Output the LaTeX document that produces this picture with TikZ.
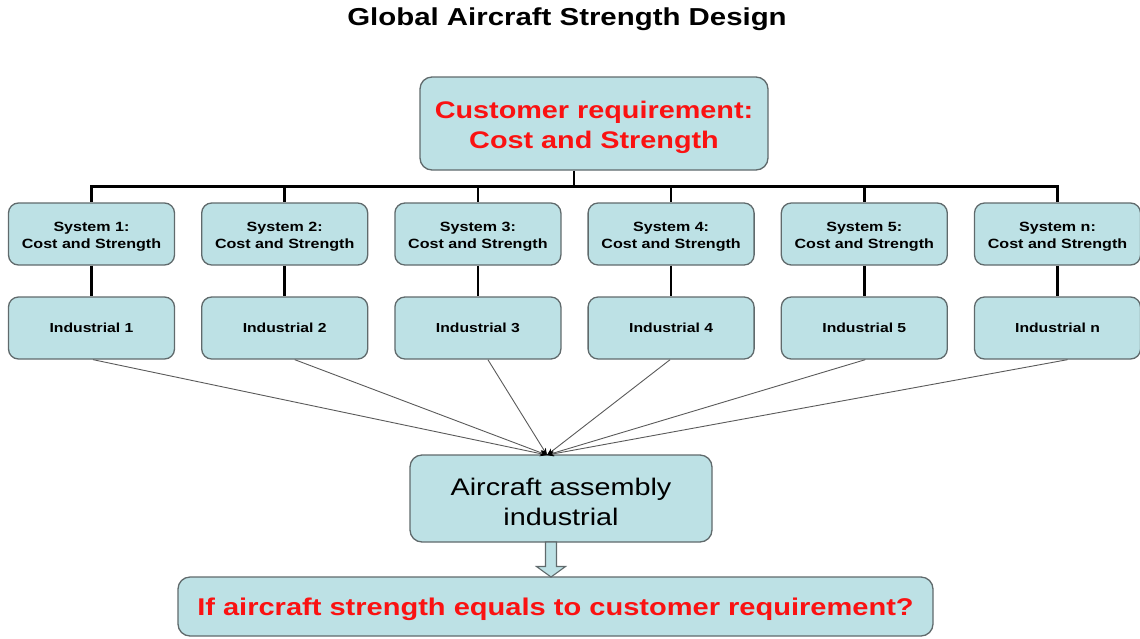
\documentclass[tikz,border=0pt]{standalone}
\usepackage{fontspec}
\setmainfont{Liberation Sans}[FakeStretch=1.2]
\usetikzlibrary{arrows.meta,calc}

\definecolor{boxfill}{RGB}{189,225,229}
\definecolor{boxedge}{RGB}{96,106,108}
\definecolor{reqred}{RGB}{250,18,18}
\definecolor{feedline}{RGB}{90,90,90}

% stacked, centred lines, set a little lower than the box centre
\newcommand{\lowtext}[2][3pt]{\raisebox{-#1}[\height][\depth]{\begin{tabular}{@{}c@{}}#2\end{tabular}}}

\tikzset{
  box/.style={draw=boxedge, line width=1.3pt, fill=boxfill, align=center, inner sep=0pt},
  bigbox/.style={box, rounded corners=12pt},
  sysbox/.style={box, rounded corners=10pt, minimum width=166pt, minimum height=62pt,
                 font=\fontsize{13.4}{17}\selectfont\bfseries},
  indbox/.style={sysbox, font=\fontsize{13.1}{16}\selectfont\bfseries},
  tree/.style={line width=2.7pt, black},
  feed/.style={line width=0.9pt, feedline, -{Stealth[length=7pt,width=5.5pt,black]}},
  hollow/.style={draw=boxedge, line width=1.1pt, fill=boxfill, line join=miter}
}

\begin{document}
\begin{tikzpicture}[x=1pt, y=-1pt]
  \useasboundingbox (0,0) rectangle (1140,638);

  % title
  \node[font=\fontsize{24.5}{29}\selectfont\bfseries] (title) at (567,19.5) {Global Aircraft Strength Design};

  % customer requirement
  \node[bigbox, minimum width=348pt, minimum height=93pt, text=reqred,
        font=\fontsize{24}{30}\selectfont\bfseries] (req) at (594,123.5)
        {\lowtext[3.5pt]{Customer requirement:\\Cost and Strength}};

  % systems and their industrial partners
  \foreach \i/\lab in {0/1, 1/2, 2/3, 3/4, 4/5, 5/n} {
    \pgfmathsetmacro{\cx}{91.5+193.2*\i}
    \node[sysbox] (sys\i) at (\cx,234) {\lowtext[2.5pt]{System \lab:\\Cost and Strength}};
    \node[indbox] (ind\i) at (\cx,328) {\lowtext[1.5pt]{Industrial \lab}};
    \draw[tree] (sys\i.south) -- (ind\i.north);
  }

  % bus from the requirement box to every system
  \coordinate (busL) at (sys0.north |- 0,186.5);
  \coordinate (busR) at (sys5.north |- 0,186.5);
  \coordinate (busC) at (574,186.5);
  \draw[tree] (busC |- req.south) -- (busC);
  \draw[tree, line cap=rect] (busL) -- (busR);
  \foreach \i in {0,...,5} {
    \draw[tree] (sys\i.north |- busL) -- (sys\i.north);
  }

  % assembly
  \node[bigbox, minimum width=302pt, minimum height=87pt,
        font=\fontsize{24}{30}\selectfont] (asm) at (561,498.5)
        {\lowtext[6pt]{Aircraft assembly\\industrial}};

  % every industrial partner feeds the assembly
  \coordinate (meet) at (547,455);
  \foreach \i/\dx in {0/1.5, 1/10, 2/10, 3/-1, 4/1, 5/10} {
    \draw[feed] ($(ind\i.south)+(\dx,0)$) -- (meet);
  }

  % question
  \node[bigbox, minimum width=755pt, minimum height=59pt, text=reqred,
        font=\fontsize{24.2}{29}\selectfont\bfseries] (q) at (555.5,606.5)
        {\lowtext[3pt]{If aircraft strength equals to customer requirement?}};

  % hollow block arrow from assembly to question
  \coordinate (arrTop) at (551,542);
  \coordinate (arrTip) at (551,577);
  \draw[hollow] (arrTop) ++(-5.5,0) -- ++(0,24.5) -- ++(-9,0) -- (arrTip)
        -- ++(14.5,-10.5) -- ++(-9,0) -- ++(0,-24.5) -- cycle;
\end{tikzpicture}
\end{document}
